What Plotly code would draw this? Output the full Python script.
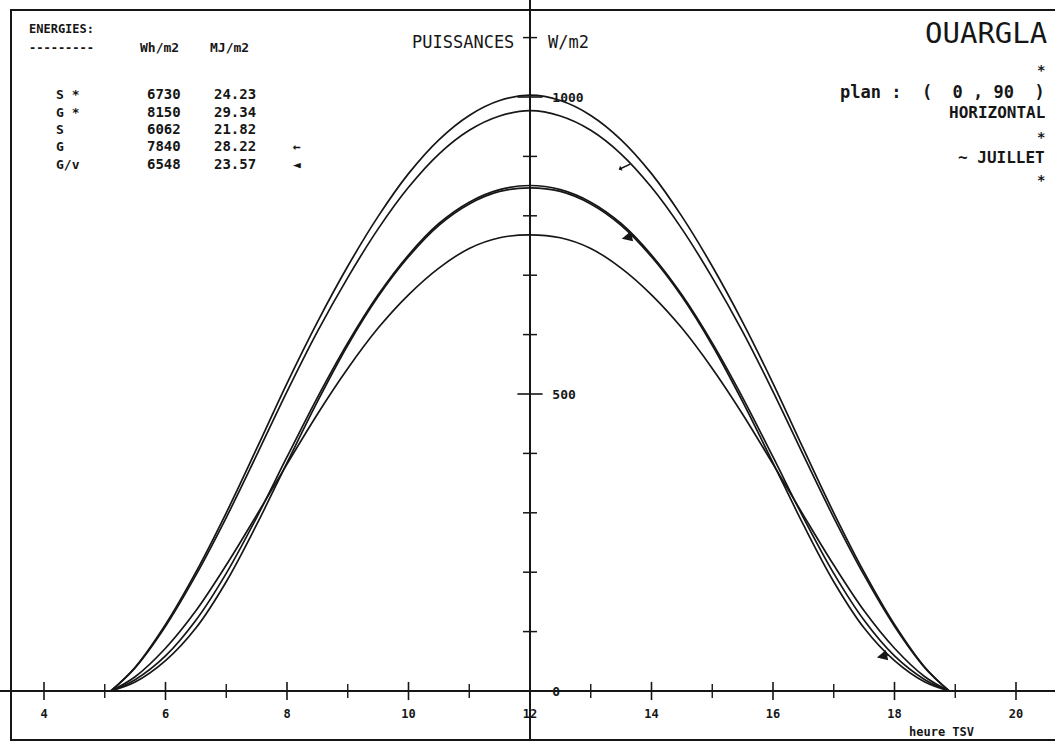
import plotly.graph_objects as go

# ---------------- data ----------------
hours = [5.1, 5.5, 6.0, 6.5, 7.0, 7.5, 8.0, 8.5, 9.0, 9.5, 10.0, 10.5, 11.0, 11.5,
         12.0, 12.5, 13.0, 13.5, 14.0, 14.5, 15.0, 15.5, 16.0, 16.5, 17.0, 17.5,
         18.0, 18.5, 18.9]

g_star = [0, 40, 112, 200, 300, 408, 518, 621, 715, 799, 871, 928, 969, 994,
          1003, 994, 969, 928, 871, 799, 715, 621, 518, 408, 300, 200, 112, 40, 0]
g_glob = [0, 39, 109, 195, 292, 397, 504, 605, 696, 778, 848, 904, 944, 968,
          977, 968, 944, 904, 848, 778, 696, 605, 504, 397, 292, 195, 109, 39, 0]
s_star = [0, 19, 59, 119, 198, 292, 394, 494, 586, 667, 734, 787, 823, 844,
          851, 844, 823, 787, 734, 667, 586, 494, 394, 292, 198, 119, 59, 19, 0]
g_vit = [0, 15, 51, 106, 184, 280, 384, 487, 582, 664, 731, 784, 820, 841,
         847, 841, 820, 784, 731, 664, 582, 487, 384, 280, 184, 106, 51, 15, 0]
s_dir = [0, 24, 72, 135, 212, 296, 382, 466, 543, 611, 667, 712, 745, 763,
         768, 763, 745, 712, 667, 611, 543, 466, 382, 296, 212, 135, 72, 24, 0]

series_names = ["S *", "G *", "S", "G", "G/v"]
energy_wh = ["6730", "8150", "6062", "7840", "6548"]
energy_mj = ["24.23", "29.34", "21.82", "28.22", "23.57"]
legend_marks = ["", "", "", "\u2190", "\u25c4"]

x_ticks_major = [4, 6, 8, 10, 12, 14, 16, 18, 20]
x_ticks_minor = [5, 7, 9, 11, 13, 15, 17, 19]
y_ticks_major = [500, 1000]
y_ticks_minor = [100, 200, 300, 400, 600, 700, 800, 900, 1100]
y_label_vals = [0, 500, 1000]

# identification marks drawn on the curves (hour, W/m2)
g_mark_x = [13.65]
g_mark_y = [887]
gv_mark_x = [13.7, 17.9]
gv_mark_y = [766, 61]

# ---------------- layout constants ----------------
W, H = 1055, 751
X_RANGE = [3.2757, 20.642]
Y_RANGE = [-82.5, 1163.3]
Y_DOM0 = 11 / 751
X_AXIS_POS = Y_DOM0 + (1 - Y_DOM0) * (0 - Y_RANGE[0]) / (Y_RANGE[1] - Y_RANGE[0])
Y_AXIS_POS = (12 - X_RANGE[0]) / (X_RANGE[1] - X_RANGE[0])

INK = "#161616"
MONO = "DejaVu Sans Mono"

fig = go.Figure()

for vals in [g_star, g_glob, s_star, g_vit, s_dir]:
    fig.add_trace(go.Scatter(x=hours, y=vals, mode="lines",
                             line=dict(color=INK, width=1.7, shape="spline", smoothing=1.0),
                             hoverinfo="skip", showlegend=False, cliponaxis=False))

# crossing tick marks on the axes
fig.add_trace(go.Scatter(x=x_ticks_major, y=[0] * len(x_ticks_major), mode="markers",
                         marker=dict(symbol="line-ns", size=13, line=dict(color=INK, width=1.6)),
                         showlegend=False, hoverinfo="skip", cliponaxis=False))
fig.add_trace(go.Scatter(x=x_ticks_minor, y=[0] * len(x_ticks_minor), mode="markers",
                         marker=dict(symbol="line-ns", size=10, line=dict(color=INK, width=1.4)),
                         showlegend=False, hoverinfo="skip", cliponaxis=False))
fig.add_trace(go.Scatter(x=[12] * len(y_ticks_major), y=y_ticks_major, mode="markers",
                         marker=dict(symbol="line-ew", size=18, line=dict(color=INK, width=1.6)),
                         showlegend=False, hoverinfo="skip", cliponaxis=False))
fig.add_trace(go.Scatter(x=[12] * len(y_ticks_minor), y=y_ticks_minor, mode="markers",
                         marker=dict(symbol="line-ew", size=10, line=dict(color=INK, width=1.5)),
                         showlegend=False, hoverinfo="skip", cliponaxis=False))

annotations = []


def px(x):
    return x / W


def py(y):
    return 1 - y / H


def txt(text, x, y, size, xanchor="left", bold=True):
    annotations.append(dict(text=text, x=px(x), y=py(y), xref="paper", yref="paper",
                            xanchor=xanchor, yanchor="middle", showarrow=False,
                            font=dict(family=MONO, size=size, color=INK,
                                      weight="bold" if bold else "normal")))


# energies table
txt("ENERGIES:", 27, 29, 12)
txt("---------", 27, 48, 12)
txt("Wh/m2", 159, 48, 13, "center")
txt("MJ/m2", 229, 48, 13, "center")
row_y = [94, 112, 129, 146, 164]
for name, wh, mj, mk, yy in zip(series_names, energy_wh, energy_mj, legend_marks, row_y):
    txt(name, 54, yy, 13)
    txt(wh, 183, yy, 14, "right")
    txt(mj, 258, yy, 14, "right")
    if mk:
        txt(mk, 297, yy, 13, "center")

# titles
txt("PUISSANCES", 516, 42, 17, "right", bold=False)
txt("W/m2", 546, 42, 17, "left", bold=False)
txt("OUARGLA", 1049, 33, 29, "right", bold=False)
txt("*", 1047, 70, 14, "right")
txt("plan :  (  0 , 90  )", 1047, 92, 17, "right")
txt("HORIZONTAL", 1047, 112, 16, "right")
txt("*", 1047, 137, 14, "right")
txt("~ JUILLET", 1047, 157, 16, "right")
txt("*", 1047, 180, 14, "right")
txt("heure TSV", 907, 732, 12)

# curve markers
for mx, my in zip(g_mark_x, g_mark_y):
    annotations.append(dict(x=mx, y=my, xref="x", yref="y", text="",
                            showarrow=True, arrowside="start", startarrowhead=1,
                            startarrowsize=0.6, arrowwidth=1.6, arrowcolor=INK,
                            ax=-13, ay=6, standoff=0, startstandoff=0))
for mx, my in zip(gv_mark_x, gv_mark_y):
    annotations.append(dict(x=mx, y=my, xref="x", yref="y", text="",
                            showarrow=True, arrowside="start", startarrowhead=2,
                            startarrowsize=1.3, arrowwidth=1.6, arrowcolor=INK,
                            ax=-13, ay=3, standoff=0, startstandoff=0))

fig.update_layout(
    width=W, height=H,
    margin=dict(l=0, r=0, t=0, b=0, pad=0),
    paper_bgcolor="white", plot_bgcolor="white",
    showlegend=False,
    annotations=annotations,
    shapes=[dict(type="rect", xref="paper", yref="paper",
                 x0=px(11), x1=1.02, y0=py(740), y1=py(10),
                 line=dict(color=INK, width=2))],
    xaxis=dict(range=X_RANGE, domain=[0, 1], anchor="free", position=X_AXIS_POS,
               showgrid=False, zeroline=False, showline=True, linecolor=INK, linewidth=2,
               ticks="", tickvals=x_ticks_major, ticklabelstandoff=12,
               tickfont=dict(family=MONO, size=12, color=INK, weight="bold"),
               fixedrange=True, automargin=False),
    yaxis=dict(range=Y_RANGE, domain=[Y_DOM0, 1], anchor="free", position=Y_AXIS_POS,
               side="right", showgrid=False, zeroline=False, showline=True,
               linecolor=INK, linewidth=1.5, ticks="", tickvals=y_label_vals,
               ticklabelstandoff=19,
               tickfont=dict(family=MONO, size=13, color=INK, weight="bold"),
               fixedrange=True, automargin=False),
)

fig.write_html("out.html", config={"displayModeBar": False},
               post_script="document.body.style.margin='0';")
